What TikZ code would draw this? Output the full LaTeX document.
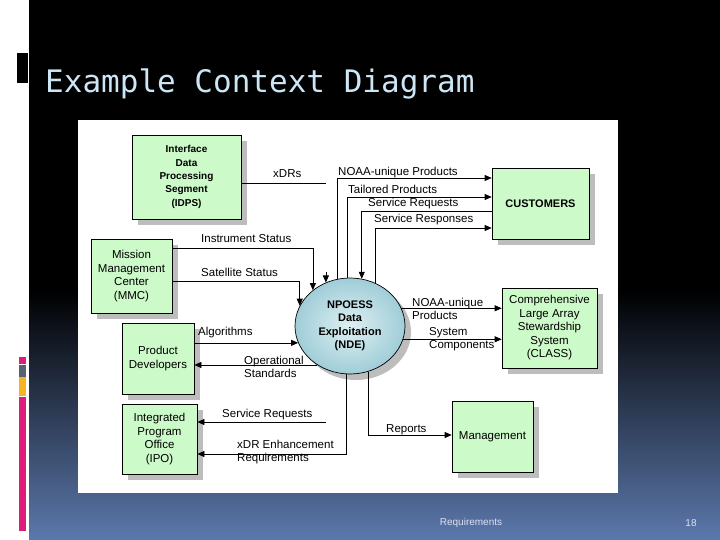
\documentclass[tikz,border=0pt]{standalone}
\usepackage{fontspec}
\setmainfont{Liberation Sans}
\newfontfamily\titlefont{DejaVu Sans Mono}
\usetikzlibrary{arrows.meta,shadows,shapes.geometric}

\definecolor{boxgreen}{RGB}{204,250,200}
\definecolor{ballin}{RGB}{222,240,242}
\definecolor{ballout}{RGB}{160,205,216}
\definecolor{titleblue}{RGB}{205,230,245}
\definecolor{slideblue}{RGB}{92,120,172}
\definecolor{slidemid}{RGB}{34,44,66}
\definecolor{footwhite}{RGB}{220,226,240}
\definecolor{barpink}{RGB}{222,28,122}
\definecolor{bargray}{RGB}{88,98,110}
\definecolor{barorange}{RGB}{245,180,35}

\begin{document}
\begin{tikzpicture}[x=1pt,y=-1pt,
    entity/.style={draw=black, line width=0.7pt, fill=boxgreen, align=center,
      inner sep=2pt, font=\fontsize{11.5}{13.5}\selectfont,
      drop shadow={shadow xshift=6pt, shadow yshift=-6pt, fill=black!26, opacity=1}},
    process/.style={ellipse, draw=black, line width=0.7pt, inner color=ballin,
      outer color=ballout, align=center, inner sep=0pt,
      font=\bfseries\fontsize{11}{13.5}\selectfont,
      drop shadow={shadow xshift=6pt, shadow yshift=-6pt, fill=black!26, opacity=1}},
    flow/.style={line width=0.7pt, -{Triangle[length=7pt,width=6pt]}},
    plain/.style={line width=0.7pt},
    lbl/.style={anchor=west, inner sep=0pt, align=left,
      font=\fontsize{11.5}{13.5}\selectfont}]

    % slide background
    \fill[white] (0,0) rectangle (720,540);
    \fill[black] (29,0) rectangle (720,290);
    \shade[top color=black, middle color=slidemid, bottom color=slideblue]
      (29,290) rectangle (720,540);
    \fill[black] (17,53) rectangle (28,83);
    \fill[barpink] (19,357) rectangle (26,364);
    \fill[bargray] (19,365) rectangle (26,377);
    \fill[barorange] (19,377) rectangle (26,396);
    \fill[barpink] (19,397) rectangle (26,531);

    % title and footer
    \node[anchor=base west, inner sep=0pt, text=titleblue,
      font=\titlefont\fontsize{31}{31}\selectfont] (title) at (45,93)
      {Example Context Diagram};
    \node[text=footwhite, font=\fontsize{10}{12}\selectfont] (foot) at (471,523) {Requirements};
    \node[text=footwhite, font=\fontsize{10}{12}\selectfont] (pnum) at (691,523) {18};

    % diagram panel
    \fill[white] (78,120) rectangle (618,493);

    % external entities
    \node[entity, minimum width=109pt, minimum height=84pt,
      font=\bfseries\fontsize{10}{13.3}\selectfont] (idps) at (186.5,177)
      {Interface\\Data\\Processing\\Segment\\(IDPS)};
    \node[entity, minimum width=81pt, minimum height=74pt] (mmc) at (131.5,276)
      {Mission\\Management\\Center\\(MMC)};
    \node[entity, minimum width=72pt, minimum height=71pt] (prod) at (158,358.5)
      {Product\\Developers};
    \node[entity, minimum width=75pt, minimum height=70pt] (ipo) at (159.5,439)
      {Integrated\\Program\\Office\\(IPO)};
    \node[entity, minimum width=97pt, minimum height=71pt,
      font=\bfseries\fontsize{11}{13}\selectfont] (cust) at (540.5,203.5) {CUSTOMERS};
    \node[entity, minimum width=95pt, minimum height=80pt] (class) at (549.5,328)
      {Comprehensive\\Large Array\\Stewardship\\System\\(CLASS)};
    \node[entity, minimum width=81pt, minimum height=71pt] (mgmt) at (492.5,436.5)
      {Management};

    % the process
    \node[process, minimum width=110pt, minimum height=96pt] (nde) at (350,326)
      {NPOESS\\Data\\Exploitation\\(NDE)};

    % customers
    \draw[flow] (nde.105.6) |- (cust.west |- 0,178);
    \draw[flow] (nde.93.6) |- (cust.west |- 0,197);
    \draw[flow] (cust.west |- 0,211) -| (nde.76.8);
    \draw[flow] (nde.59.7) |- (cust.west |- 0,228);
    \node[lbl] (lnoaa) at (338,173) {NOAA-unique Products};
    \node[lbl] (ltail) at (348,189) {Tailored Products};
    \node[lbl] (lsreq) at (368,204) {Service Requests};
    \node[lbl] (lsresp) at (374,220) {Service Responses};

    % idps and mmc
    \coordinate (xdrend) at (326,183);
    \draw[plain] (idps.east |- xdrend) -- (xdrend);
    \draw[flow] (nde.119 |- 0,272) -- (nde.119);
    \draw[flow] (mmc.east |- 0,248) -| (nde.136.2);
    \draw[flow] (mmc.east |- 0,281) -| (nde.158.2);
    \node[lbl] (lxdr) at (273,174) {xDRs};
    \node[lbl] (linst) at (201,239) {Instrument Status};
    \node[lbl] (lsat) at (201,272) {Satellite Status};

    % product developers and ipo
    \draw[flow] (prod.east |- nde.198.3) -- (nde.198.3);
    \draw[flow] (nde.230.6) -- (prod.east |- nde.230.6);
    \coordinate (sreqend) at (326,422);
    \draw[flow] (sreqend) -- (ipo.east |- sreqend);
    \draw[flow] (nde.266.4) |- (ipo.east |- 0,454);
    \node[lbl] (lalg) at (198,333) {Algorithms};
    \node[lbl] (lops) at (244,367) {Operational\\Standards};
    \node[lbl] (lsreq2) at (222,415) {Service Requests};
    \node[lbl] (lxdre) at (237,452) {xDR Enhancement\\Requirements};

    % class and management
    \draw[flow] (nde.19.4) -- (class.west |- nde.19.4);
    \draw[flow] (nde.346.2) -- (class.west |- nde.346.2);
    \draw[flow] (nde.292.9) |- (mgmt.west |- 0,435);
    \node[lbl] (lnoaa2) at (412,309) {NOAA-unique\\Products};
    \node[lbl] (lsys) at (429,339) {System\\Components};
    \node[lbl] (lrep) at (386,430) {Reports};
  \end{tikzpicture}
\end{document}
